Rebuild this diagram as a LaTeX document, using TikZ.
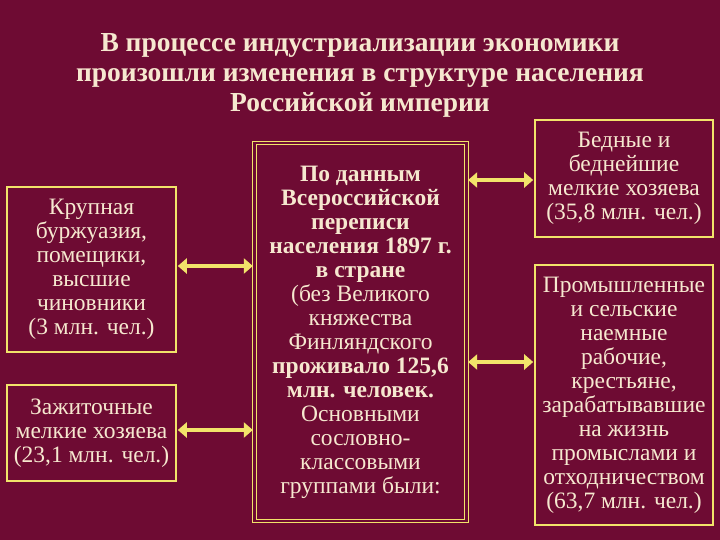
\documentclass[tikz,border=0pt]{standalone}
\usepackage{fontspec}
\setmainfont{Liberation Serif}
\usetikzlibrary{arrows.meta}
\definecolor{bg}{HTML}{6E0B33}
\definecolor{tx}{HTML}{F6E8CF}
\definecolor{yl}{HTML}{F2E46A}
\tikzset{
 box/.style={draw=yl,line width=1.6pt,text=tx,align=center,inner sep=1pt,font=\fontsize{23.5}{24}\selectfont},
 dbl/.style={box,double=bg,double distance=2.2pt,line width=1.3pt},
 arr/.style={draw=yl,line width=4.5pt,{Triangle[length=9pt,width=15pt]}-{Triangle[length=9pt,width=15pt]},shorten <=1pt,shorten >=1pt}
}
\begin{document}
\begin{tikzpicture}[x=1pt,y=-1pt]
\fill[bg] (0,0) rectangle (720,540);
\useasboundingbox (0,0) rectangle (720,540);
\node[text=tx,align=center,font=\fontsize{27.5}{30}\selectfont\bfseries] (title) at (360,75) {В процессе индустриализации экономики\\произошли изменения в структуре населения\\Российской империи};
\node[box,minimum width=169pt,minimum height=165pt] (l1) at (91.5,269.5) {Крупная\\буржуазия,\\помещики,\\высшие\\чиновники\\(3 млн. чел.)};
\node[box,minimum width=169pt,minimum height=96pt] (l2) at (91.5,433) {Зажиточные\\мелкие хозяева\\(23,1 млн. чел.)};
\node[dbl,minimum width=212pt,minimum height=378pt] (c) at (360.5,332) {\textbf{По данным}\\\textbf{Всероссийской}\\\textbf{переписи}\\\textbf{населения 1897 г.}\\\textbf{в стране}\\(без Великого\\княжества\\Финляндского\\\textbf{проживало 125,6}\\\textbf{млн. человек.}\\Основными\\сословно-\\классовыми\\группами были:};
\node[box,minimum width=178pt,minimum height=117pt] (r1) at (624,178.5) {Бедные и\\беднейшие\\мелкие хозяева\\(35,8 млн. чел.)};
\node[box,minimum width=178pt,minimum height=260pt] (r2) at (624,395) {Промышленные\\и сельские\\наемные\\рабочие,\\крестьяне,\\зарабатывавшие\\на жизнь\\промыслами и\\отходничеством\\(63,7 млн. чел.)};
\draw[arr] (l1.east |- 0,266) -- (c.west |- 0,266);
\draw[arr] (l2.east |- 0,430) -- (c.west |- 0,430);
\draw[arr] (c.east |- 0,180) -- (r1.west |- 0,180);
\draw[arr] (c.east |- 0,362) -- (r2.west |- 0,362);
\end{tikzpicture}
\end{document}
